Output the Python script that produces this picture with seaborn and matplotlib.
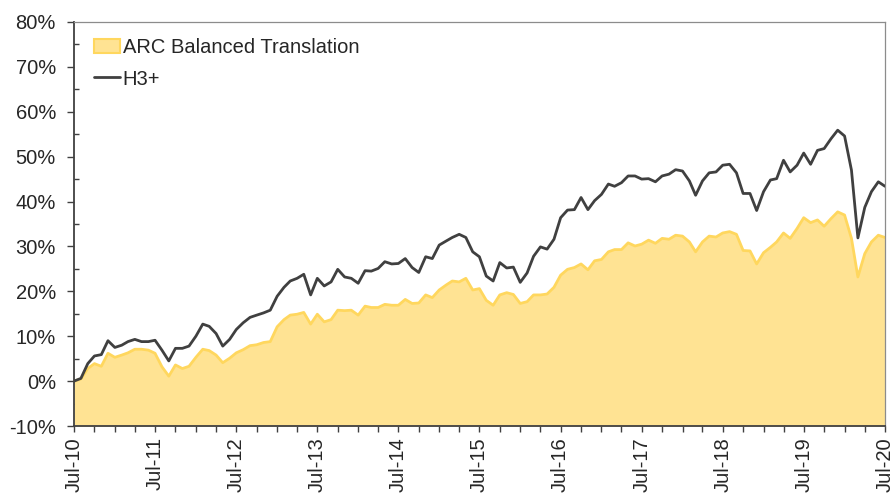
import matplotlib
matplotlib.use("Agg")
from matplotlib import pyplot as plt
import matplotlib.dates as mdates
from matplotlib.ticker import PercentFormatter, MultipleLocator
from matplotlib.patches import Patch
from matplotlib.lines import Line2D
import seaborn as sb
import pandas as pd
import numpy as np

# monthly cumulative returns (%), Jul-10 .. Jul-20
h3_plus = [0, 0.6, 3.9, 5.6, 5.9, 9.0, 7.5, 8.0, 8.8, 9.3, 8.8, 8.8, 9.1, 6.9, 4.5, 7.3,
           7.3, 7.8, 10.0, 12.7, 12.2, 10.6, 7.8, 9.3, 11.5, 13.0, 14.2,
           14.7, 15.2, 15.8, 18.9, 20.9, 22.3, 22.9, 23.8, 19.2, 22.9, 21.2, 22.1, 24.9,
           23.2, 22.9, 21.8, 24.6, 24.5, 25.1, 26.6, 26.1, 26.2, 27.3, 25.3, 24.2,
           27.7, 27.3, 30.3, 31.2, 32.0, 32.7, 32.0, 28.8, 27.7, 23.4, 22.3, 26.4, 25.2,
           25.4, 22.0, 24.1, 27.8, 29.9, 29.4, 31.6, 36.4, 38.1, 38.2, 40.9, 38.2,
           40.2, 41.6, 43.9, 43.4, 44.2, 45.7, 45.7, 45.0, 45.1, 44.4, 45.7, 46.1, 47.1,
           46.8, 44.6, 41.4, 44.6, 46.4, 46.6, 48.1, 48.3, 46.4, 41.8, 41.8, 38.0,
           42.2, 44.8, 45.1, 49.2, 46.6, 48.1, 50.8, 48.3, 51.4, 51.8, 54.0, 55.9, 54.6,
           47.0, 31.9, 38.7, 42.2, 44.4, 43.4]
arc_balanced = [0, 0.5, 2.8, 3.9, 3.3, 6.2, 5.3, 5.8, 6.3, 7.1, 7.1, 6.9, 6.2, 3.2, 1.1, 3.6,
                2.8, 3.3, 5.3, 7.1, 6.8, 5.8, 4.1, 5.1, 6.3, 7.0, 7.9,
                8.1, 8.6, 8.8, 12.1, 13.7, 14.7, 14.9, 15.3, 12.7, 14.9, 13.2, 13.7, 15.8,
                15.7, 15.8, 14.7, 16.7, 16.4, 16.4, 17.1, 16.9, 16.9, 18.2, 17.3, 17.4,
                19.2, 18.6, 20.3, 21.4, 22.3, 22.1, 22.9, 20.3, 20.6, 18.0, 16.9, 19.2, 19.7,
                19.3, 17.3, 17.7, 19.2, 19.2, 19.4, 20.9, 23.6, 24.9, 25.3, 26.1, 24.8,
                26.8, 27.1, 28.8, 29.3, 29.3, 30.8, 30.1, 30.5, 31.4, 30.7, 31.8, 31.6, 32.5,
                32.3, 31.0, 28.8, 31.0, 32.3, 32.1, 33.0, 33.3, 32.7, 29.1, 29.0, 26.1,
                28.6, 29.8, 31.0, 33.0, 31.8, 34.0, 36.4, 35.3, 35.9, 34.5, 36.2, 37.7, 37.0,
                31.8, 23.2, 28.4, 31.0, 32.5, 32.0]
dates = pd.date_range("2010-07-01", periods=len(h3_plus), freq="MS")
labels = ["ARC Balanced Translation", "H3+"]

df = pd.DataFrame({"date": dates, "H3+": h3_plus, "ARC": arc_balanced})

sb.set_style("white")
plt.rcParams["font.family"] = ["Liberation Sans", "DejaVu Sans"]
plt.rcParams["axes.unicode_minus"] = False

fill_col = "#FFE393"
edge_col = "#FFD75E"
line_col = "#404040"
fs = 14.5

fig = plt.figure(figsize=(8.96, 4.93), dpi=100)
ax = fig.add_axes([0.0826, 0.1359, 0.9051, 0.8195])

ax.fill_between(df["date"], df["ARC"], -10, color=fill_col, lw=0, zorder=1)
sb.lineplot(data=df, x="date", y="ARC", color=edge_col, lw=2.0, ax=ax, zorder=2)
sb.lineplot(data=df, x="date", y="H3+", color=line_col, lw=2.0, ax=ax, zorder=3)

ax.set_xlim(dates[0], dates[-1])
ax.set_ylim(-10, 80)
ax.set_xlabel("")
ax.set_ylabel("")

ax.yaxis.set_major_locator(MultipleLocator(10))
ax.yaxis.set_minor_locator(MultipleLocator(5))
ax.yaxis.set_major_formatter(PercentFormatter(xmax=100, decimals=0))
ax.xaxis.set_major_locator(mdates.MonthLocator(bymonth=7))
ax.xaxis.set_minor_locator(mdates.MonthLocator(bymonth=[1, 4, 10]))
ax.xaxis.set_major_formatter(mdates.DateFormatter("%b-%y"))

ax.tick_params(axis="y", which="major", direction="out", length=5, width=1, color=line_col,
               pad=8, labelsize=fs, left=True)
ax.tick_params(axis="y", which="minor", direction="in", length=3.5, width=1, color=line_col, left=True)
ax.tick_params(axis="x", which="both", direction="out", length=4, width=1, color=line_col,
               pad=4, labelsize=fs, bottom=True)
plt.setp(ax.get_xticklabels(), rotation=90)

for side in ["top", "right"]:
    ax.spines[side].set_color("#8c8c8c")
    ax.spines[side].set_linewidth(0.9)
for side in ["left", "bottom"]:
    ax.spines[side].set_color(line_col)
    ax.spines[side].set_linewidth(1.3)

handles = [Patch(facecolor=fill_col, edgecolor=edge_col, lw=1.5),
           Line2D([0], [0], color=line_col, lw=2.0)]
fig.legend(handles, labels, loc="upper left", bbox_to_anchor=(0.105, 0.922), frameon=False,
           fontsize=fs, handlelength=1.3, handletextpad=0.12, labelspacing=0.6,
           borderpad=0, borderaxespad=0)

plt.savefig("out.png", dpi=100)
